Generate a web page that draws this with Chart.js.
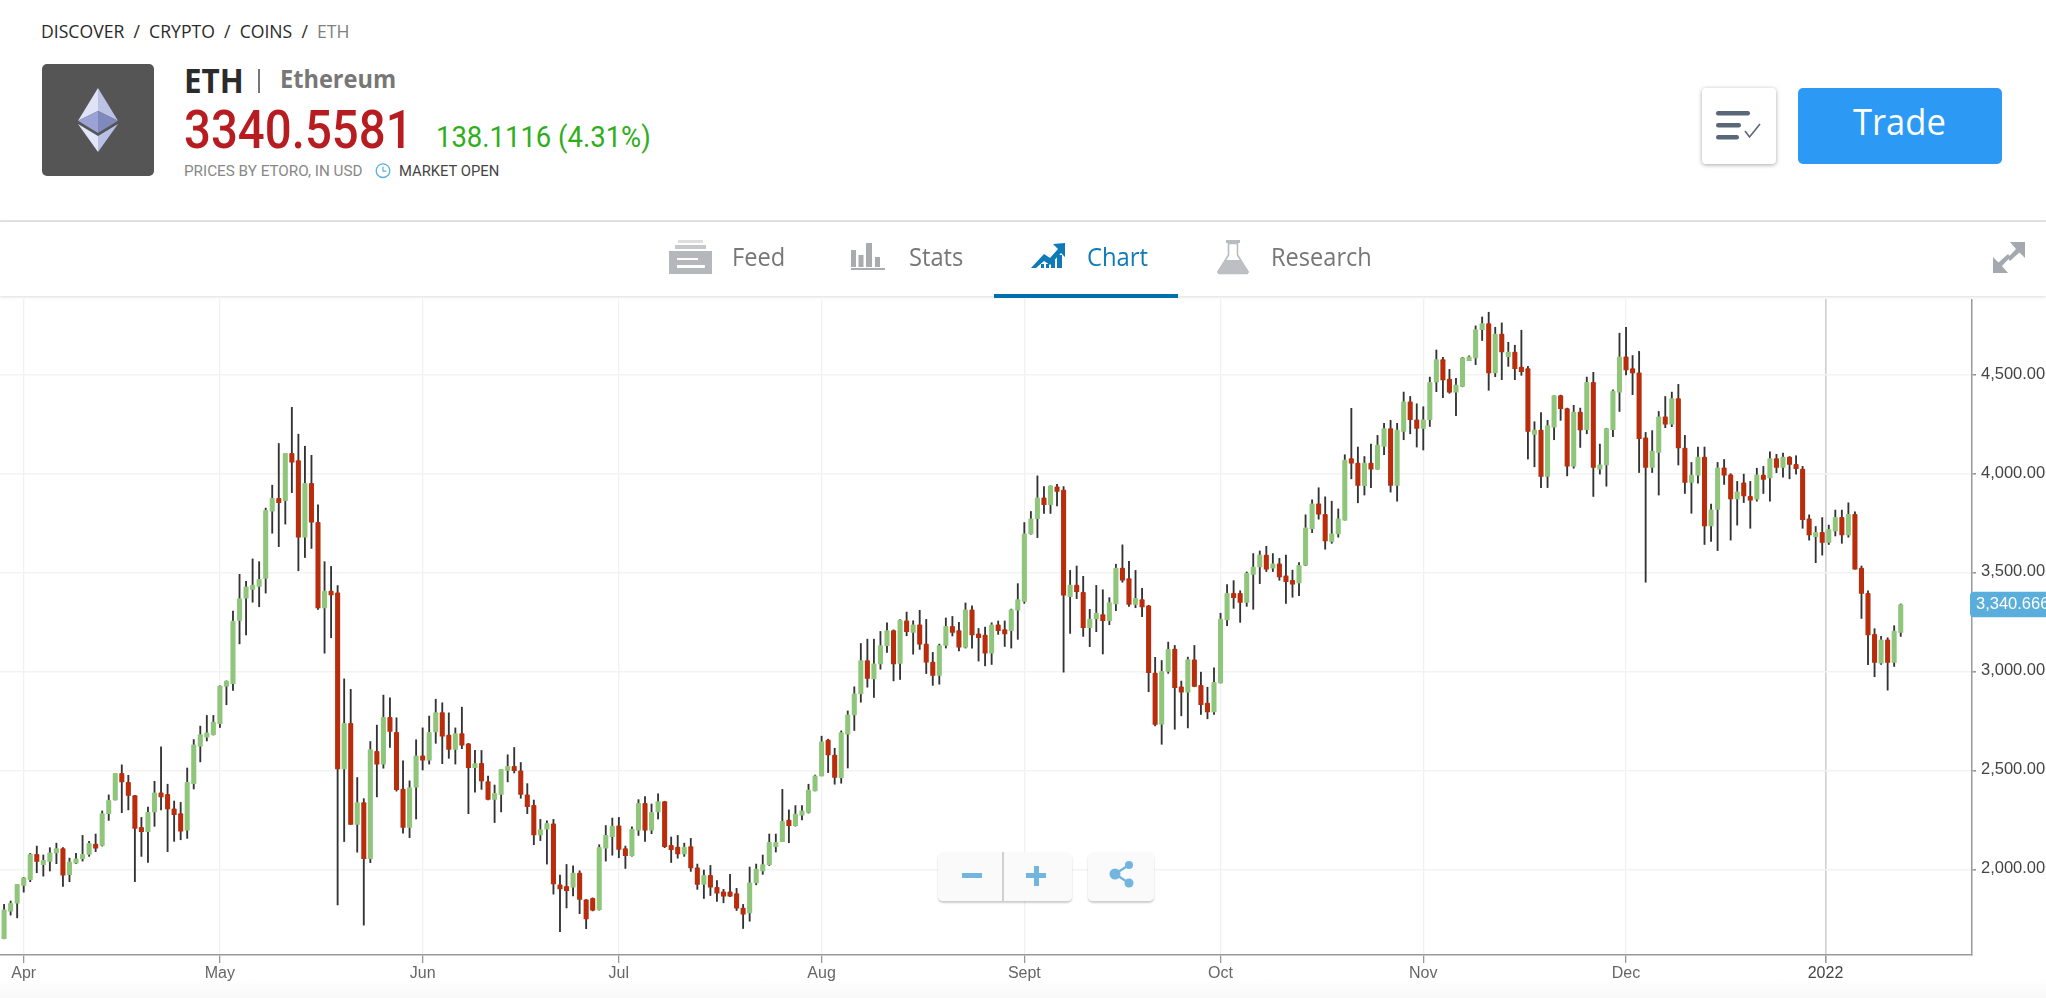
<!DOCTYPE html>
<html>
<head>
<meta charset="utf-8">
<title>ETH</title>
<script src="https://cdn.jsdelivr.net/npm/chart.js@4"></script>
<style>
html,body{margin:0;padding:0;background:#fff;width:2046px;height:998px;overflow:hidden;}
.t{position:absolute;white-space:nowrap;line-height:1;transform-origin:0 50%;font-family:"Open Sans",sans-serif;}
.r{font-family:Roboto,sans-serif;}
#hr{position:absolute;left:0;top:220px;width:2046px;height:2px;background:#e4e4e4;}
#nav{position:absolute;left:0;top:222px;width:2046px;height:74px;background:#fff;box-shadow:0 1px 3px rgba(0,0,0,.14);z-index:2;}
#tabLine{position:absolute;left:994px;top:294px;width:184px;height:4px;background:#0070ac;z-index:3;}
#icons{position:absolute;left:0;top:0;z-index:4;}
#logoBox{position:absolute;left:42px;top:64px;width:112px;height:112px;background:#555;border-radius:5px;}
#listBtn{position:absolute;left:1702px;top:88px;width:74px;height:76px;background:#fff;border-radius:4px;box-shadow:0 1px 4px rgba(0,0,0,.35);}
#tradeBtn{position:absolute;left:1798px;top:88px;width:204px;height:76px;background:#2c9af5;border-radius:5px;}
.ctl{position:absolute;top:852px;height:49px;background:rgba(250,250,250,.92);border-radius:5px;box-shadow:0 2px 2px rgba(0,0,0,.2);z-index:5;}
#bottomTint{position:absolute;left:0;top:978px;width:2046px;height:20px;background:linear-gradient(#fff,#f9f9f9);}
#chartWrap{position:absolute;left:0;top:299px;width:2046px;height:700px;z-index:1;}
</style>
</head>
<body>
<div id="bottomTint"></div>
<div id="chartWrap"><canvas id="ethChart" width="2046" height="700"></canvas></div>

<div class="t" style="left:41px;top:23px;font-size:17.5px;color:#2a2a2a;" data-w="309">DISCOVER&nbsp; /&nbsp; CRYPTO&nbsp; /&nbsp; COINS&nbsp; /&nbsp; <span style="color:#808080">ETH</span></div>
<div id="logoBox"></div>
<div class="t" style="left:184px;top:62.7px;font-size:34px;font-weight:700;color:#2b2b2b;" data-w="60">ETH</div>
<div style="position:absolute;left:258px;top:69px;width:2px;height:24px;background:#777"></div>
<div class="t" style="left:280px;top:66px;font-size:25px;font-weight:700;color:#777;" data-w="116">Ethereum</div>
<div class="t r" style="left:184px;top:102.6px;font-size:54px;font-weight:500;color:#b71c20;" data-w="229">3340.5581</div>
<div class="t r" style="left:436px;top:123px;font-size:29px;color:#2fae1c;" data-w="215">138.1116 (4.31%)</div>
<div class="t r" style="left:184px;top:163.7px;font-size:15px;color:#888;" data-w="179">PRICES BY ETORO, IN USD</div>
<div class="t r" style="left:398.5px;top:163.7px;font-size:15px;color:#444;" data-w="100.5">MARKET OPEN</div>
<div id="listBtn"></div>
<div id="tradeBtn"></div>
<div class="t" style="left:1853px;top:104px;font-size:36px;color:#fff;z-index:3;" data-w="93">Trade</div>

<div id="hr"></div>
<div id="nav"></div>
<div id="tabLine"></div>
<div class="t" style="left:731.6px;top:243.8px;font-size:25px;color:#777;z-index:4;" data-w="53">Feed</div>
<div class="t" style="left:908.5px;top:243.8px;font-size:25px;color:#777;z-index:4;" data-w="54">Stats</div>
<div class="t" style="left:1087px;top:243.8px;font-size:25px;color:#0f7ab8;z-index:4;" data-w="61">Chart</div>
<div class="t" style="left:1271px;top:243.8px;font-size:25px;color:#777;z-index:4;" data-w="101">Research</div>

<svg id="icons" width="2046" height="300">
  <!-- ethereum -->
  <polygon points="98,88 78,120.7 98,111" fill="#dfe3f5"/>
  <polygon points="98,88 118,120.7 98,111" fill="#bcc2e6"/>
  <polygon points="78,120.7 98,111 98,133" fill="#9aa2d6"/>
  <polygon points="118,120.7 98,111 98,133" fill="#8089bd"/>
  <polygon points="78,124 98,136 98,152" fill="#e3e6f7"/>
  <polygon points="118,124 98,136 98,152" fill="#b9c0e5"/>
  <!-- market clock -->
  <circle cx="383" cy="170.7" r="6.8" fill="none" stroke="#5ab0e0" stroke-width="1.3"/>
  <path d="M383 166.5v4.6h3.4" fill="none" stroke="#5ab0e0" stroke-width="1.2"/>
  <!-- list button -->
  <g fill="#5a6778">
    <rect x="1716" y="111" width="34" height="4.5" rx="2.2"/>
    <rect x="1716" y="123" width="25" height="4.5" rx="2.2"/>
    <rect x="1716" y="135" width="23" height="4.5" rx="2.2"/>
  </g>
  <path d="M1745 131l4.5 6 10.5-13" fill="none" stroke="#5a6778" stroke-width="1.6"/>
  <!-- feed -->
  <rect x="678" y="240" width="25" height="3" fill="#dcdee0"/>
  <rect x="675" y="245" width="31" height="4" fill="#c6c9cc"/>
  <rect x="669" y="251" width="43" height="23" fill="#b4b8bc"/>
  <rect x="677" y="258" width="21" height="2" fill="#fff"/>
  <rect x="677" y="265" width="28" height="3" fill="#fff"/>
  <!-- stats -->
  <g fill="#a8acb0">
    <rect x="851" y="250" width="5" height="17"/>
    <rect x="858.5" y="255" width="5" height="12"/>
    <rect x="866" y="243" width="6" height="24"/>
    <rect x="875" y="257" width="5" height="10"/>
    <rect x="851" y="268" width="34" height="2"/>
  </g>
  <!-- chart -->
  <g fill="#0f7ab8">
    <polygon points="1031,268 1044,254 1050,258 1058,249 1053,244 1065,243 1065,257 1061,253 1050,265 1044,261 1036,268"/>
    <rect x="1041" y="264" width="3" height="4"/>
    <rect x="1046" y="264" width="3" height="4"/>
    <rect x="1051" y="260" width="4" height="8"/>
    <rect x="1057" y="255" width="5" height="13"/>
  </g>
  <!-- flask -->
  <rect x="1226" y="240" width="14" height="3" fill="#b8bbbf"/>
  <polygon points="1228.5,243.5 1237.5,243.5 1237.5,255 1248,272 1247,273.5 1219,273.5 1218,272 1228.5,255" fill="#fff" stroke="#b8bbbf" stroke-width="1.6"/>
  <polygon points="1225,260 1241,260 1249,272 1247,274 1219,274 1217,272" fill="#bcbfc3"/>
  <!-- expand -->
  <g fill="#a4a8af">
    <polygon points="2025,242 2025,258 2019.5,252.5 2010,261 2007.5,258 2016,249 2010,242"/>
    <polygon points="1993,273 1993,257 1998.5,262.5 2008,254 2010.5,257 2002,266 2008,273"/>
  </g>
</svg>

<div class="ctl" style="left:938px;width:134px;">
  <div style="position:absolute;left:64px;top:0;width:2px;height:49px;background:#d0d0d0"></div>
  <div style="position:absolute;left:24px;top:21px;width:20px;height:5px;background:#72b5df"></div>
  <div style="position:absolute;left:88px;top:21px;width:20px;height:5px;background:#72b5df"></div>
  <div style="position:absolute;left:95.5px;top:13.5px;width:5px;height:20px;background:#72b5df"></div>
</div>
<div class="ctl" style="left:1088px;width:66px;">
  <svg width="66" height="49">
    <path d="M27 22L41 13M27 22L41 31" stroke="#72b5df" stroke-width="2.4"/>
    <circle cx="27" cy="22" r="5.5" fill="#72b5df"/>
    <circle cx="41" cy="13" r="4" fill="#72b5df"/>
    <circle cx="41" cy="31" r="4.5" fill="#72b5df"/>
  </svg>
</div>

<script>
// 数据:每日 K 线
const opens = [
  1650,1789,1829,1919,1948,2076,2024,2041,2084,2106,
  1973,2032,2054,2076,2128,2122,2282,2351,2486,2441,
  2373,2213,2191,2291,2388,2380,2306,2282,2199,2434,
  2623,2669,2682,2738,2927,2940,3260,3372,3417,3432,
  3472,3812,3877,3866,4105,4068,3681,3953,3756,3323,
  3408,3399,2508,2739,2228,2338,2054,2597,2533,2770,
  2694,2407,2212,2416,2575,2553,2696,2794,2680,2607,
  2687,2636,2515,2537,2445,2354,2380,2501,2521,2499,
  2378,2324,2175,2204,2231,1922,1915,1910,1982,1846,
  1854,1796,2107,2166,2220,2106,2069,2199,2334,2199,
  2291,2343,2122,2113,2078,2115,2008,1924,1970,1910,
  1887,1887,1878,1804,1780,1932,1993,2024,2115,2140,
  2250,2221,2275,2289,2397,2473,2654,2578,2464,2684,
  2782,2888,3056,2964,3040,3132,3208,3042,3258,3199,
  3238,3140,3049,2981,3133,3230,3208,3125,3314,3192,
  3186,3094,3238,3214,3208,3312,3356,3698,3774,3880,
  3845,3936,3919,3380,3439,3402,3223,3267,3289,3258,
  3343,3524,3471,3341,3365,3334,2993,2735,3002,3115,
  2924,2897,3061,2932,2841,2797,2943,3262,3397,3397,
  3351,3493,3530,3591,3524,3546,3486,3463,3449,3539,
  3723,3850,3797,3659,3698,3767,4078,4056,3941,4056,
  4025,4140,4230,3943,4216,4366,4275,4231,4275,4466,
  4579,4481,4414,4444,4574,4588,4731,4762,4512,4709,
  4594,4618,4542,4534,4201,4223,3988,4238,4397,4331,
  4040,4314,4225,4464,4025,4047,4225,4414,4594,4534,
  4512,4184,4034,4110,4290,4253,4382,4132,3958,3995,
  4086,3738,3821,4032,3997,3875,3956,3888,3873,3995,
  3981,4078,4034,4086,4049,4025,3774,3684,3706,3655,
  3713,3782,3693,3797,3525,3397,3189,3044,3161,3047,
  3199
];
const highs = [
  1823,1840,1924,1960,2081,2118,2073,2110,2133,2110,
  2057,2081,2172,2142,2179,2296,2377,2486,2529,2476,
  2375,2263,2316,2446,2620,2431,2346,2339,2513,2657,
  2725,2779,2779,2929,2954,3307,3493,3457,3571,3557,
  3828,3944,4155,4105,4338,4202,4141,4095,3844,3557,
  3533,3436,2964,2911,2465,2358,2647,2730,2882,2868,
  2767,2550,2448,2656,2716,2776,2861,2843,2792,2716,
  2821,2638,2602,2602,2472,2427,2506,2580,2617,2541,
  2434,2351,2253,2246,2253,1971,2025,2018,1993,1848,
  1856,2125,2222,2260,2263,2118,2216,2353,2368,2331,
  2383,2345,2164,2172,2133,2157,2027,1997,2020,1944,
  1899,1975,1904,1823,2012,2027,2073,2179,2179,2405,
  2301,2323,2323,2431,2477,2674,2659,2613,2701,2802,
  2924,3143,3165,3165,3204,3248,3212,3264,3302,3258,
  3311,3265,3098,3140,3272,3280,3250,3348,3334,3219,
  3226,3248,3257,3257,3317,3446,3755,3811,3991,3937,
  3941,3948,3937,3513,3535,3483,3316,3437,3415,3375,
  3544,3642,3559,3513,3422,3336,3073,3057,3150,3133,
  2953,3074,3133,2998,2922,3020,3296,3441,3461,3410,
  3505,3598,3611,3635,3598,3574,3590,3514,3552,3794,
  3870,3931,3885,3863,3824,4098,4333,4137,4089,4152,
  4196,4257,4272,4257,4415,4393,4356,4341,4491,4628,
  4591,4530,4485,4591,4598,4750,4795,4819,4743,4765,
  4667,4652,4728,4545,4265,4311,4272,4397,4400,4334,
  4348,4334,4491,4515,4152,4232,4426,4713,4743,4600,
  4621,4211,4220,4317,4393,4415,4454,4196,4059,4137,
  4137,3848,4059,4074,4002,3963,4000,3963,4030,4039,
  4113,4100,4106,4089,4093,4039,3794,3735,3780,3742,
  3818,3818,3855,3809,3535,3409,3218,3179,3172,3233,
  3343
];
const lows = [
  1649,1769,1755,1885,1938,1983,1966,1992,2029,1914,
  1938,2029,2042,2066,2090,2118,2248,2351,2287,2301,
  1938,2066,2035,2218,2301,2090,2142,2150,2157,2407,
  2544,2650,2680,2718,2833,2906,3141,3186,3352,3329,
  3398,3701,3633,3747,3906,3511,3578,3624,3316,3094,
  3172,1821,2141,2228,2087,1718,2034,2367,2512,2617,
  2396,2184,2161,2255,2503,2533,2638,2535,2562,2533,
  2611,2282,2391,2405,2351,2237,2291,2443,2488,2360,
  2282,2125,2146,2027,1875,1685,1805,1866,1776,1700,
  1790,1794,2042,2072,2059,2005,2067,2172,2142,2181,
  2255,2110,2035,2057,2066,1990,1899,1853,1868,1838,
  1831,1862,1792,1701,1738,1922,1975,2020,2088,2140,
  2135,2219,2250,2285,2397,2473,2490,2431,2436,2513,
  2703,2846,2922,2870,3013,3098,2954,2961,3182,3089,
  3113,2991,2931,2937,3120,3181,3106,3120,3120,3054,
  3030,3037,3189,3128,3120,3164,3346,3696,3679,3801,
  3801,3839,2998,3194,3370,3179,3127,3203,3090,3238,
  3309,3453,3331,3324,3279,2899,2726,2633,2992,2709,
  2777,2716,2924,2784,2762,2784,2943,3233,3321,3250,
  3331,3316,3446,3507,3507,3463,3346,3377,3385,3537,
  3704,3772,3620,3650,3681,3767,3976,3855,3894,3931,
  4024,4098,3909,3863,4174,4204,4137,4122,4241,4417,
  4387,4409,4296,4442,4574,4554,4676,4424,4493,4478,
  4545,4478,4500,4076,4037,3932,3932,4174,4272,3991,
  4030,4135,4204,3887,4000,3939,4189,4317,4502,4402,
  4008,3453,4008,3894,4235,4240,4046,3902,3802,3954,
  3644,3659,3613,3948,3666,3742,3856,3726,3863,3902,
  3863,4007,3985,3976,4000,3726,3666,3552,3590,3644,
  3687,3650,3681,3519,3270,3036,2975,3037,2907,3027,
  3179
];
const closes = [
  1796,1828,1924,1958,2076,2041,2046,2084,2106,1971,
  2039,2054,2076,2132,2108,2282,2350,2486,2443,2375,
  2208,2191,2289,2388,2367,2306,2277,2193,2441,2630,
  2682,2691,2745,2927,2953,3257,3370,3430,3439,3468,
  3817,3877,3855,4105,4061,3681,3953,3757,3323,3408,
  3389,2508,2739,2228,2338,2054,2606,2533,2770,2698,
  2403,2212,2414,2575,2553,2694,2794,2674,2607,2687,
  2629,2515,2535,2448,2354,2385,2506,2522,2499,2380,
  2318,2175,2202,2233,1926,1901,1893,1982,1848,1749,
  1794,2112,2172,2219,2101,2069,2204,2334,2199,2289,
  2343,2115,2100,2078,2113,2008,1924,1970,1910,1880,
  1865,1865,1804,1774,1932,2002,2024,2137,2137,2243,
  2221,2280,2297,2402,2473,2645,2579,2466,2692,2782,
  2888,3056,2966,3040,3132,3208,3040,3262,3203,3238,
  3140,3049,2981,3133,3230,3199,3125,3314,3186,3172,
  3094,3238,3208,3192,3314,3365,3698,3774,3880,3845,
  3941,3912,3388,3439,3405,3223,3267,3297,3258,3350,
  3524,3464,3341,3372,3328,2995,2733,3002,3113,2919,
  2897,3062,2926,2834,2797,2946,3267,3397,3375,3351,
  3498,3530,3591,3519,3546,3480,3456,3443,3539,3728,
  3850,3797,3662,3698,3774,4071,4056,3943,4056,4025,
  4147,4230,3943,4223,4366,4275,4231,4275,4464,4579,
  4476,4414,4451,4588,4594,4731,4762,4512,4709,4618,
  4618,4534,4518,4216,4223,3988,4245,4397,4331,4040,
  4314,4223,4464,4034,4047,4230,4420,4594,4527,4512,
  4179,4034,4116,4290,4253,4382,4132,3958,3995,4086,
  3738,3819,4032,3995,3875,3910,3890,3868,3997,3973,
  4078,4034,4086,4049,4027,3769,3693,3706,3655,3721,
  3782,3693,3797,3519,3397,3186,3047,3161,3047,3206,
  3340
];
const monthLabels = ['Apr','May','Jun','Jul','Aug','Sept','Oct','Nov','Dec','2022'];
const monthCandles = [3,33,64,94,125,156,186,217,248,278.5];
const priceTicks = [2000,2500,3000,3500,4000,4500];
const lastPrice = 3340.666;

const GREEN = '#90c67c', RED = '#b92d0c';
const isUp = opens.map((o,i)=>closes[i]>=o);
const fmt = v=>v.toLocaleString('en-US',{minimumFractionDigits:3,maximumFractionDigits:3});

// 右侧最新价标签
const lastPriceTag = {
  id:'lastPriceTag',
  afterDraw(chart){
    const c = chart.ctx, y = chart.scales.y.getPixelForValue(lastPrice);
    c.save();
    c.fillStyle = '#5aaedb';
    c.beginPath();
    c.roundRect(1970,y-12.7,90,25.4,4);
    c.fill();
    c.fillStyle = '#fff';
    c.font = '16.5px "Liberation Sans"';
    c.textBaseline = 'middle';
    c.fillText(fmt(lastPrice),1976,y);
    c.restore();
  }
};

function zeroPadding(scale){
  scale.paddingLeft = scale.paddingRight = scale.paddingTop = scale.paddingBottom = 0;
}

new Chart(document.getElementById('ethChart'),{
  type:'bar',
  plugins:[lastPriceTag],
  data:{
    datasets:[
      { label:'High-Low', order:2, grouped:false, barThickness:1.2, backgroundColor:'#333',
        data:highs.map((h,i)=>({x:i,y:[lows[i],h]})) },
      { label:'Open-Close', order:1, grouped:false, barThickness:4.4, borderRadius:1,
        backgroundColor:isUp.map(u=>u?GREEN:RED),
        data:opens.map((o,i)=>({x:i,y:[o,closes[i]]})) }
    ]
  },
  options:{
    responsive:false,
    animation:false,
    layout:{padding:0},
    plugins:{legend:{display:false},tooltip:{enabled:false}},
    scales:{
      x:{
        type:'linear',
        offset:false,
        min:-0.624,
        max:300.9,
        afterBuildTicks(scale){ scale.ticks = monthCandles.map(v=>({value:v})); },
        afterFit(scale){ scale.height = 44; zeroPadding(scale); },
        grid:{
          offset:false,
          color:ctx=>ctx.tick && ctx.tick.value===278.5?'#cfcfcf':'#f1f1f1',
          lineWidth:ctx=>ctx.tick && ctx.tick.value===278.5?1.6:1.3,
          tickColor:'#999',
          tickLength:8
        },
        border:{color:'#999',width:1.5},
        ticks:{
          autoSkip:false,
          maxRotation:0,
          padding:1,
          font:{family:'"Liberation Sans"',size:16},
          color:ctx=>ctx.tick && ctx.tick.value===278.5?'#444':'#666',
          callback:v=>monthLabels[monthCandles.indexOf(v)]
        }
      },
      y:{
        position:'right',
        min:1567,
        max:4886,
        afterBuildTicks(scale){ scale.ticks = priceTicks.map(v=>({value:v})); },
        afterFit(scale){ scale.width = 74; zeroPadding(scale); },
        grid:{color:'#f3f3f3',lineWidth:1.6,tickColor:'#999',tickLength:4},
        border:{color:'#999',width:1.5},
        ticks:{
          padding:5,
          labelOffset:-1,
          font:{family:'"Liberation Sans"',size:16.5},
          color:'#444',
          callback:v=>fmt(v)
        }
      }
    }
  }
});

// 把文字压到图上的宽度
document.querySelectorAll('[data-w]').forEach(el=>{
  el.style.transform = 'scaleX('+(parseFloat(el.dataset.w)/el.offsetWidth)+')';
});
</script>
</body>
</html>
